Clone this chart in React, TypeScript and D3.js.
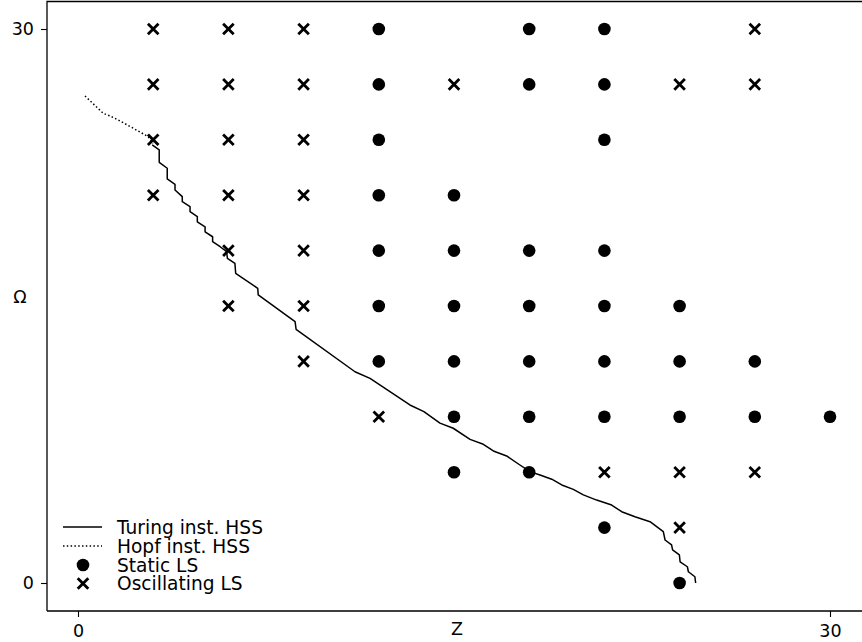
import React, { useEffect, useRef } from 'react';
import * as d3 from 'd3';

type Pt = [number, number];

// grid results (Z, Omega)
const staticLS: Pt[] = [
  [12, 30], [18, 30], [21, 30],
  [12, 27], [18, 27], [21, 27],
  [12, 24], [21, 24],
  [12, 21], [15, 21],
  [12, 18], [15, 18], [18, 18], [21, 18],
  [12, 15], [15, 15], [18, 15], [21, 15], [24, 15],
  [12, 12], [15, 12], [18, 12], [21, 12], [24, 12], [27, 12],
  [15, 9], [18, 9], [21, 9], [24, 9], [27, 9], [30, 9],
  [15, 6], [18, 6],
  [21, 3],
  [24, 0],
];

const oscillatingLS: Pt[] = [
  [3, 30], [6, 30], [9, 30], [27, 30],
  [3, 27], [6, 27], [9, 27], [15, 27], [24, 27], [27, 27],
  [3, 24], [6, 24], [9, 24],
  [3, 21], [6, 21], [9, 21],
  [6, 18], [9, 18],
  [6, 15], [9, 15],
  [9, 12],
  [12, 9],
  [21, 6], [24, 6], [27, 6],
  [24, 3],
];

const hopfCurve: Pt[] = [
  [0.28, 26.37], [1.01, 25.43], [1.28, 25.29], [1.68, 25.02],
  [2.21, 24.62], [2.8, 24.17], [3.0, 23.81],
];

const turingCurve: Pt[] = [
  [2.96, 23.72], [3.24, 23.45], [3.24, 22.78], [3.56, 22.46], [3.56, 21.88],
  [3.87, 21.59], [3.87, 21.28], [4.16, 20.92], [4.16, 20.65], [4.47, 20.38],
  [4.47, 20.11], [4.76, 19.84], [4.76, 19.56], [5.07, 19.29], [5.07, 19.02],
  [5.37, 18.75], [5.37, 18.48], [5.67, 18.21], [5.93, 17.94], [5.96, 17.58],
  [6.26, 17.31], [6.29, 16.77], [7.17, 15.96], [7.19, 15.6], [8.66, 14.15],
  [8.7, 13.74], [11.05, 11.44], [11.65, 11.08], [13.24, 9.64], [13.8, 9.28],
  [14.44, 8.66], [14.97, 8.38], [15.64, 7.78], [16.17, 7.51], [16.57, 7.15],
  [17.1, 6.88], [17.63, 6.39], [18.03, 6.03], [18.43, 5.85], [18.9, 5.62],
  [19.3, 5.31], [19.76, 5.07], [20.16, 4.77], [20.69, 4.49], [21.29, 4.22],
  [21.69, 3.86], [22.22, 3.59], [22.82, 3.32], [23.35, 2.78], [23.42, 2.33],
  [23.68, 2.06], [23.72, 1.79], [23.99, 1.52], [24.02, 1.15], [24.31, 0.88],
  [24.35, 0.61], [24.61, 0.34], [24.64, 0.0],
];

const xTicks = [0, 30];
const yTicks = [0, 30];
const legendLabels = ['Turing inst. HSS', 'Hopf inst. HSS', 'Static LS', 'Oscillating LS'];

const FONT = '"DejaVu Sans", sans-serif';

export default function App() {
  const svgRef = useRef<SVGSVGElement | null>(null);

  useEffect(() => {
    if (!svgRef.current) return;
    const svg = d3.select(svgRef.current);
    svg.selectAll('*').remove();

    const width = 862;
    const height = 642;
    const left = 47, top = 1.5, bottom = 611;

    const x = d3.scaleLinear().domain([0, 30]).range([78, 830]);
    const y = d3.scaleLinear().domain([0, 30]).range([583, 29]);

    svg.append('rect').attr('width', width).attr('height', height).attr('fill', '#fff');

    // curves
    const line = d3.line<Pt>().x(d => x(d[0])).y(d => y(d[1]));
    svg.append('path')
      .attr('d', line(turingCurve))
      .attr('fill', 'none')
      .attr('stroke', '#000')
      .attr('stroke-width', 1.5)
      .attr('stroke-linejoin', 'round');
    svg.append('path')
      .attr('d', line(hopfCurve))
      .attr('fill', 'none')
      .attr('stroke', '#000')
      .attr('stroke-width', 1.5)
      .attr('stroke-dasharray', '1.5,2.3');

    // markers
    const drawDot = (g: d3.Selection<any, any, any, any>, cx: number, cy: number) => {
      g.append('circle').attr('cx', cx).attr('cy', cy).attr('r', 6.3).attr('fill', '#000');
    };
    const drawCross = (g: d3.Selection<any, any, any, any>, cx: number, cy: number) => {
      const s = 5.3;
      g.append('path')
        .attr('d', `M${cx - s},${cy - s}L${cx + s},${cy + s}M${cx - s},${cy + s}L${cx + s},${cy - s}`)
        .attr('stroke', '#000')
        .attr('stroke-width', 2.8)
        .attr('fill', 'none');
    };

    const marks = svg.append('g');
    staticLS.forEach(d => drawDot(marks, x(d[0]), y(d[1])));
    oscillatingLS.forEach(d => drawCross(marks, x(d[0]), y(d[1])));

    // spines
    svg.append('path')
      .attr('d', `M${left},${bottom}V${top}H${width + 5}M${left},${bottom}H${width + 5}`)
      .attr('stroke', '#000')
      .attr('stroke-width', 1.3)
      .attr('fill', 'none');

    // ticks
    const xAxis = svg.append('g')
      .attr('transform', `translate(0,${bottom})`)
      .call(d3.axisBottom(x).tickValues(xTicks).tickSize(6).tickPadding(8).tickFormat(d3.format('d')));
    xAxis.select('.domain').remove();
    const yAxis = svg.append('g')
      .attr('transform', `translate(${left},0)`)
      .call(d3.axisLeft(y).tickValues(yTicks).tickSize(6).tickPadding(7).tickFormat(d3.format('d')));
    yAxis.select('.domain').remove();
    svg.selectAll('.tick line').attr('stroke', '#000').attr('stroke-width', 1.1);
    svg.selectAll('.tick text')
      .attr('fill', '#000')
      .style('font-family', FONT)
      .style('font-size', '17.5px');

    // axis labels
    svg.append('text')
      .attr('x', 457).attr('y', 635)
      .attr('text-anchor', 'middle')
      .style('font-family', FONT).style('font-size', '17.5px')
      .text('Z');
    svg.append('text')
      .attr('x', 20).attr('y', 297)
      .attr('text-anchor', 'middle')
      .attr('dominant-baseline', 'central')
      .style('font-family', FONT).style('font-size', '17.5px')
      .text('Ω');

    // legend
    const lg = svg.append('g');
    const rowY = [527, 546, 565, 583.5];
    legendLabels.forEach((label, i) => {
      const cy = rowY[i];
      if (i === 0 || i === 1) {
        lg.append('line')
          .attr('x1', 63).attr('x2', 102).attr('y1', cy).attr('y2', cy)
          .attr('stroke', '#000').attr('stroke-width', 1.5)
          .attr('stroke-dasharray', i === 1 ? '1.5,2.3' : null);
      } else if (i === 2) {
        drawDot(lg, 83, cy);
      } else {
        drawCross(lg, 83, cy);
      }
      lg.append('text')
        .attr('x', 117).attr('y', cy)
        .attr('dominant-baseline', 'central')
        .style('font-family', FONT).style('font-size', '18.6px')
        .text(label);
    });
  }, []);

  return (
    <svg
      ref={svgRef}
      width={862}
      height={642}
      style={{ position: 'absolute', left: 0, top: 0, display: 'block' }}
    />
  );
}
